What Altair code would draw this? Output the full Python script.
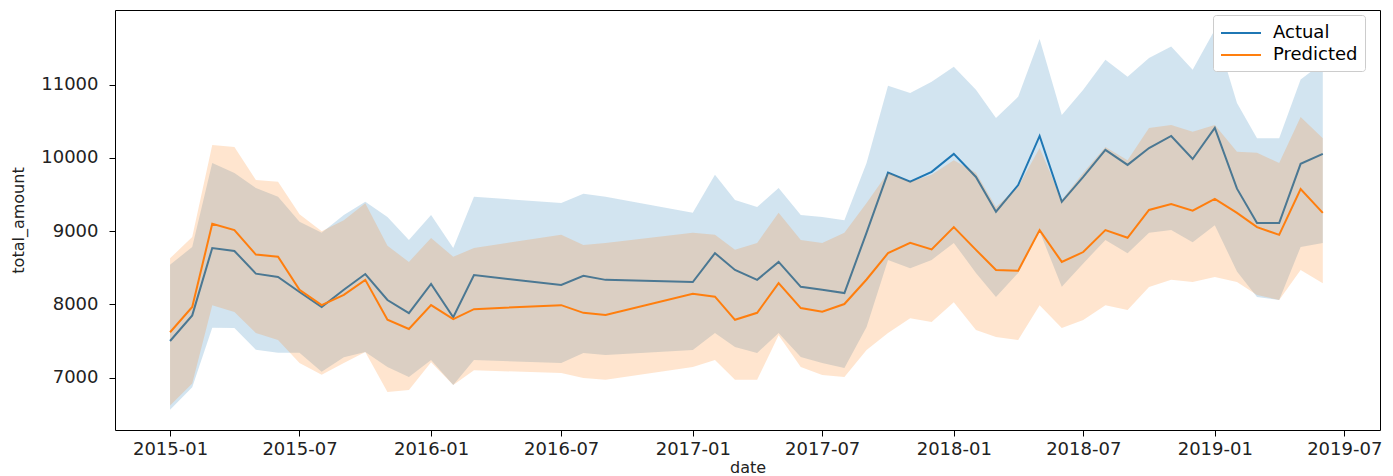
import altair as alt
import pandas as pd

dates = (
    [f"2015-{m:02d}-01" for m in range(1, 13)]
    + ["2016-01-01", "2016-02-01", "2016-03-01", "2016-07-01", "2016-08-01", "2016-09-01"]
    + [f"2017-{m:02d}-01" for m in range(1, 13)]
    + [f"2018-{m:02d}-01" for m in range(1, 13)]
    + [f"2019-{m:02d}-01" for m in range(1, 7)]
)

actual = [7500, 7850, 8770, 8730, 8420, 8375, 8170, 7965, 8200, 8415, 8060, 7880,
          8280, 7825, 8400, 8265, 8390, 8335,
          8305, 8700, 8470, 8335, 8580, 8240, 8200, 8155, 8980, 9800, 9675, 9810,
          10055, 9740, 9265, 9630, 10300, 9400, 9740, 10110, 9905, 10135, 10300, 9985,
          10410, 9580, 9110, 9110, 9920, 10055]
actual_hi = [8540, 8785, 9930, 9795, 9590, 9470, 9130, 8980, 9220, 9400, 9195, 8880,
             9220, 8770, 9470, 9385, 9510, 9470,
             9250, 9770, 9425, 9330, 9590, 9220, 9195, 9150, 9930, 10985, 10886, 11040,
             11245, 10930, 10545, 10835, 11625, 10586, 10930, 11340, 11110, 11365, 11520, 11205,
             11750, 10750, 10270, 10270, 11070, 11300]
actual_lo = [6560, 6870, 7680, 7677, 7380, 7340, 7340, 7080, 7280, 7350, 7146, 7010,
             7240, 6900, 7240, 7200, 7337, 7310,
             7378, 7610, 7419, 7337, 7610, 7283, 7200, 7132, 7690, 8607, 8495, 8607,
             8840, 8430, 8100, 8430, 9000, 8240, 8560, 8880, 8700, 8980, 9015, 8850,
             9080, 8450, 8100, 8060, 8785, 8840]

predicted = [7620, 7965, 9100, 9015, 8680, 8650, 8200, 7990, 8130, 8335, 7790, 7665,
             7990, 7800, 7935, 7990, 7885, 7855,
             8145, 8105, 7790, 7885, 8290, 7950, 7900, 8005, 8340, 8700, 8840, 8750,
             9055, 8745, 8470, 8460, 9015, 8580, 8715, 9015, 8910, 9290, 9370, 9280,
             9440, 9250, 9055, 8950, 9575, 9250]
predicted_hi = [8630, 8920, 10177, 10150, 9700, 9675, 9230, 9000, 9150, 9380, 8800, 8580,
                8908, 8650, 8770, 8950, 8810, 8840,
                8980, 8950, 8745, 8840, 9250, 8880, 8840, 8980, 9385, 9800, 9675, 9770,
                9970, 9797, 9330, 9606, 10136, 9425, 9797, 10150, 9970, 10410, 10450, 10356,
                10450, 10083, 10070, 9930, 10560, 10270]
predicted_lo = [6620, 6920, 7990, 7896, 7610, 7515, 7200, 7040, 7200, 7350, 6805, 6830,
                7210, 6900, 7100, 7064, 6996, 6970,
                7146, 7240, 6970, 6970, 7580, 7146, 7036, 7010, 7378, 7610, 7812, 7760,
                8030, 7650, 7556, 7515, 7990, 7677, 7788, 7990, 7925, 8239, 8335, 8307,
                8375, 8307, 8130, 8060, 8470, 8290]

series_names = ["Actual", "Predicted"]
series_colors = ["#1f77b4", "#ff7f0e"]
x_ticks = ["2015-01", "2015-07", "2016-01", "2016-07", "2017-01", "2017-07",
           "2018-01", "2018-07", "2019-01", "2019-07"]
y_ticks = [7000, 8000, 9000, 10000, 11000]

df = pd.concat([
    pd.DataFrame({"date": dates, "series": "Actual", "total_amount": actual,
                  "lo": actual_lo, "hi": actual_hi}),
    pd.DataFrame({"date": dates, "series": "Predicted", "total_amount": predicted,
                  "lo": predicted_lo, "hi": predicted_hi}),
], ignore_index=True)

FONT = "DejaVu Sans"

x_values = [alt.DateTime(year=int(t[:4]), month=int(t[5:]), date=1, utc=True) for t in x_ticks]
x_enc = alt.X(
    "date:T",
    title="date",
    scale=alt.Scale(type="utc",
                    domain=[alt.DateTime(year=2014, month=10, date=16, utc=True),
                            alt.DateTime(year=2019, month=8, date=20, utc=True)]),
    axis=alt.Axis(values=x_values, labelExpr="utcFormat(datum.value, '%Y-%m')",
                  labelPadding=4, titlePadding=1),
)
y_scale = alt.Scale(domain=[6285, 12020], nice=False, zero=False)
y_axis = alt.Axis(values=y_ticks, format="d", labelPadding=11, titlePadding=14)

base = alt.Chart(df)


def band(name, color):
    return base.transform_filter(alt.datum.series == name).mark_area(
        opacity=0.2, color=color, interpolate="linear"
    ).encode(
        x=x_enc,
        y=alt.Y("lo:Q", scale=y_scale, axis=y_axis, title="total_amount"),
        y2="hi:Q",
    )


def line(name):
    return base.transform_filter(alt.datum.series == name).mark_line(strokeWidth=2).encode(
        x=x_enc,
        y=alt.Y("total_amount:Q", scale=y_scale, axis=y_axis, title="total_amount"),
        color=alt.Color(
            "series:N",
            scale=alt.Scale(domain=series_names, range=series_colors),
            legend=alt.Legend(
                title=None, orient="none", legendX=1098, legendY=5,
                symbolType="M-2,0L2,0", symbolSize=400, symbolStrokeWidth=2,
                symbolOffset=10,
                labelFont=FONT, labelFontSize=18, labelColor="black",
                labelOffset=21, padding=7, rowPadding=2,
                strokeColor="#cccccc", fillColor="white", cornerRadius=3,
            ),
        ),
    )


chart = alt.layer(
    line("Actual"), band("Actual", series_colors[0]),
    line("Predicted"), band("Predicted", series_colors[1]),
).properties(
    width=1265, height=420,
    autosize=alt.AutoSizeParams(type="none"),
    padding={"left": 115, "top": 10, "right": 13, "bottom": 46},
).configure_view(
    stroke="black", strokeWidth=1,
).configure_axis(
    grid=False, domain=False, tickColor="black", tickSize=6, tickWidth=1,
    labelFont=FONT, labelFontSize=18, labelColor="#222222",
    titleFont=FONT, titleFontSize=16, titleFontWeight="normal", titleColor="#222222",
)

chart.save("out.html", embed_options={"renderer": "svg", "actions": False})
